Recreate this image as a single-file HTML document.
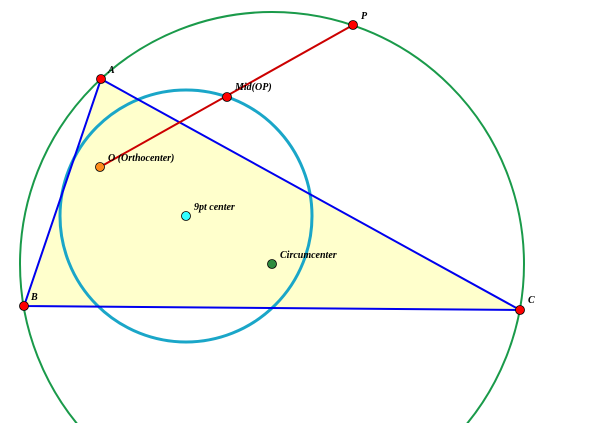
<!DOCTYPE html>
<html><head><style>html,body{margin:0;padding:0;background:#fff;width:600px;height:423px;overflow:hidden;}svg{display:block;overflow:hidden;}</style></head>
<body>
<svg width="600" height="423" viewBox="0 0 600 423" xmlns="http://www.w3.org/2000/svg">
<polygon points="101,79 24,306 520,310" fill="#ffffcc"/>
<circle cx="272" cy="264" r="252" fill="none" stroke="#1a9a4a" stroke-width="2"/>
<circle cx="186" cy="216" r="126" fill="none" stroke="#1aa6c8" stroke-width="3"/>
<polygon points="101,79 24,306 520,310" fill="none" stroke="#0000ee" stroke-width="2"/>
<line x1="100" y1="167" x2="353" y2="25" stroke="#cc0000" stroke-width="2"/>
<g stroke="#000" stroke-width="0.8">
<circle cx="101" cy="79" r="4.5" fill="#ff0000"/>
<circle cx="24" cy="306" r="4.5" fill="#ff0000"/>
<circle cx="520" cy="310" r="4.5" fill="#ff0000"/>
<circle cx="353" cy="25" r="4.5" fill="#ff0000"/>
<circle cx="227" cy="97" r="4.5" fill="#ff0000"/>
<circle cx="100" cy="167" r="4.5" fill="#ff8c1a"/>
<circle cx="186" cy="216" r="4.5" fill="#33ffff"/>
<circle cx="272" cy="264" r="4.5" fill="#2e8b3e"/>
</g>
<g font-family="Liberation Serif, serif" font-style="italic" font-weight="bold" font-size="10" fill="#000">
<text x="108" y="73">A</text>
<text x="31" y="300">B</text>
<text x="528" y="303">C</text>
<text x="361" y="19">P</text>
<text x="235" y="90">Mid(OP)</text>
<text x="108" y="161">O (Orthocenter)</text>
<text x="194" y="210">9pt center</text>
<text x="280" y="258">Circumcenter</text>
</g>
</svg>
</body></html>
